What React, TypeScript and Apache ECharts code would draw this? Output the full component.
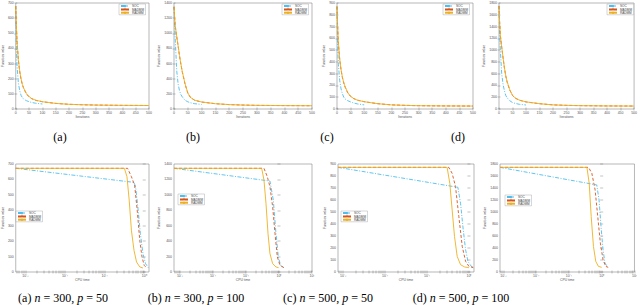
import React, { useEffect, useRef } from "react";
import * as echarts from "echarts";

const NAMES = ["SOC", "MADMM", "RADMM"];
const COLORS = ["#4DBEEE", "#D95319", "#EDB120"];

// ---------- top row: function value vs iterations ----------
const topIters = [0, 2, 5, 10, 15, 20, 25, 30, 40, 50, 60, 75, 100, 150, 200, 250, 300, 400, 500];
const socIters = [0, 2, 5, 10, 15, 20, 25, 30, 40, 50, 60, 75, 100];

const topA_SOC = [680, 420, 280, 170, 120, 90, 75, 65, 55, 48, 43, 38, 33];
const topA_MADMM = [680, 560, 440, 320, 245, 195, 160, 135, 100, 80, 68, 57, 48, 37, 31, 28, 26, 24, 23];
const topA_RADMM = [680, 565, 445, 325, 250, 200, 162, 137, 102, 82, 69, 58, 48, 37, 31, 28, 26, 24, 23];

const topB_SOC = [1350, 1100, 880, 500, 330, 240, 190, 160, 115, 95, 82, 70, 60];
const topB_MADMM = [1350, 1220, 1080, 950, 830, 700, 590, 490, 330, 210, 150, 115, 92, 70, 58, 52, 48, 45, 43];
const topB_RADMM = [1350, 1225, 1085, 955, 835, 705, 595, 495, 335, 212, 152, 116, 93, 70, 58, 52, 48, 45, 43];

const topC_SOC = [870, 560, 380, 240, 170, 128, 100, 85, 70, 60, 52, 43, 35];
const topC_MADMM = [870, 720, 560, 420, 330, 265, 220, 185, 135, 107, 90, 75, 62, 45, 35, 31, 28, 26, 25];
const topC_RADMM = [870, 725, 565, 425, 333, 268, 222, 187, 137, 108, 91, 75, 62, 45, 35, 31, 28, 26, 25];

const topD_SOC = [1750, 1300, 1000, 600, 420, 310, 230, 190, 140, 110, 95, 80, 68];
const topD_MADMM = [1750, 1500, 1250, 1050, 870, 700, 560, 460, 320, 230, 185, 150, 120, 90, 70, 62, 57, 52, 50];
const topD_RADMM = [1750, 1505, 1255, 1055, 875, 705, 565, 465, 325, 233, 187, 151, 121, 90, 70, 62, 57, 52, 50];

const topYMax = [700, 1400, 900, 1800];
const topYStep = [100, 200, 100, 200];

// ---------- bottom row: function value vs CPU time (s) ----------
const botA_SOC_t = [0.000575, 0.552, 0.605, 0.69, 0.8, 0.929, 1.08, 1.27];
const botA_SOC_v = [672, 581, 553, 423, 249, 119, 54, 28];
const botA_MADMM_t = [0.000575, 0.381, 0.475, 0.573, 0.665, 0.771, 0.879, 1.0, 1.16];
const botA_MADMM_v = [672, 672, 618, 563, 401, 206, 98, 43, 26];
const botA_RADMM_t = [0.000575, 0.316, 0.367, 0.418, 0.475, 0.552, 0.64, 0.771, 0.929];
const botA_RADMM_v = [672, 672, 618, 466, 271, 141, 65, 33, 26];

const botB_SOC_t = [0.000661, 0.533, 0.673, 0.811, 0.955, 1.12, 1.41];
const botB_SOC_v = [1344, 1179, 932, 498, 195, 87, 56];
const botB_MADMM_t = [0.000661, 0.351, 0.443, 0.533, 0.643, 0.757, 0.891, 1.07, 1.41];
const botB_MADMM_v = [1344, 1344, 1235, 1105, 845, 498, 195, 87, 56];
const botB_RADMM_t = [0.000661, 0.299, 0.351, 0.404, 0.465, 0.533, 0.643, 0.811, 0.977];
const botB_RADMM_v = [1344, 1344, 1192, 889, 498, 238, 108, 65, 56];

const botC_SOC_t = [0.000759, 0.545, 0.631, 0.731, 0.832, 0.946, 1.14, 1.27];
const botC_SOC_v = [872, 706, 573, 352, 186, 89, 47, 39];
const botC_MADMM_t = [0.000759, 0.331, 0.398, 0.479, 0.575, 0.692, 0.832, 1.0, 1.27];
const botC_MADMM_v = [872, 872, 822, 712, 462, 213, 89, 47, 36];
const botC_RADMM_t = [0.000759, 0.302, 0.35, 0.398, 0.453, 0.525, 0.631, 0.787, 1.0];
const botC_RADMM_v = [872, 872, 739, 518, 296, 130, 61, 42, 36];

const botD_SOC_t = [0.000794, 0.708, 0.832, 0.955, 1.1, 1.26, 1.51];
const botD_SOC_v = [1744, 1451, 1202, 759, 371, 150, 83];
const botD_MADMM_t = [0.000794, 0.398, 0.501, 0.631, 0.759, 0.912, 1.1, 1.32, 1.58];
const botD_MADMM_v = [1744, 1744, 1645, 1368, 925, 482, 205, 94, 78];
const botD_RADMM_t = [0.000794, 0.355, 0.417, 0.479, 0.562, 0.661, 0.794, 1.0];
const botD_RADMM_v = [1744, 1744, 1478, 925, 426, 177, 94, 78];

const botXMin = [0.000575, 0.000661, 0.000759, 0.000794];
const botXMax = [1.32, 10, 1.32, 10];
const botYMax = [700, 1400, 900, 1800];
const botYStep = [100, 200, 100, 200];

const topCaptions = ["(a)", "(b)", "(c)", "(d)"];
const botCaptionLetters = ["(a)", "(b)", "(c)", "(d)"];
const botCaptionN = ["300", "300", "500", "500"];
const botCaptionP = ["50", "100", "50", "100"];

// ---------- layout ----------
const topGrids = [
  { left: 12, top: 3, width: 137, height: 106 },
  { left: 174, top: 3, width: 138, height: 106 },
  { left: 337, top: 3, width: 136, height: 106 },
  { left: 499, top: 3, width: 137, height: 106 },
];
const botGrids = [
  { left: 10, top: 164, width: 139, height: 108 },
  { left: 174, top: 164, width: 138, height: 108 },
  { left: 338, top: 164, width: 136, height: 108 },
  { left: 500, top: 164, width: 136, height: 108 },
];
const topLegendPos = [
  { left: 119, top: 4 },
  { left: 282, top: 4 },
  { left: 443, top: 4 },
  { left: 607, top: 4 },
];
const botLegendPos = [
  { left: 16, top: 211 },
  { left: 178, top: 194 },
  { left: 341, top: 211 },
  { left: 505, top: 195 },
];
const topCaptionX = [60, 193, 327, 458];
const botCaptionX = [63, 196, 328, 461];

const LINE_TYPES: any[] = [[4, 1.5, 1, 1.5], [3, 2], "solid"];
const SUP: Record<string, string> = {
  "-": "\u207B", "0": "\u2070", "1": "\u00B9", "2": "\u00B2", "3": "\u00B3",
  "4": "\u2074", "5": "\u2075", "6": "\u2076", "7": "\u2077", "8": "\u2078", "9": "\u2079",
};
const sup = (n: number) => String(Math.round(n)).split("").map((c) => SUP[c] || c).join("");

const AX_COLOR = "#666";
const LBL = { fontSize: 3.5, color: "#555", fontFamily: "Liberation Sans" };

function buildOption() {
  const grid: any[] = [];
  const xAxis: any[] = [];
  const yAxis: any[] = [];
  const series: any[] = [];
  const legend: any[] = [];

  const addPanel = (
    g: any,
    isLog: boolean,
    xr: [number, number],
    ymax: number,
    ystep: number,
    xName: string,
    lines: number[][][],
    legPos: any
  ) => {
    const gi = grid.length;
    grid.push({ ...g, show: true, borderColor: "#888", borderWidth: 0.6, backgroundColor: "#fff" });
    const xi = xAxis.length;
    let majors: number[] = [];
    let ticks: number[] = [];
    if (isLog) {
      for (let d = -5; d <= 2; d++) {
        if (d >= xr[0] - 1e-9 && d <= xr[1] + 1e-9) majors.push(d);
        for (let k = 1; k <= 9; k++) {
          const v = d + Math.log10(k);
          if (v >= xr[0] && v <= xr[1]) ticks.push(v);
        }
      }
    }
    const xBase: any = {
      gridIndex: gi,
      type: "value",
      min: xr[0],
      max: xr[1],
      splitLine: { show: false },
      axisLine: { show: false },
    };
    if (!isLog) xBase.interval = 50;
    const tickStyle = { inside: true, length: 1.5, lineStyle: { color: AX_COLOR, width: 0.4 } };
    xAxis.push({
      ...xBase,
      position: "bottom",
      name: xName,
      nameLocation: "middle",
      nameGap: 6,
      nameTextStyle: { ...LBL, fontSize: 3.4 },
      axisTick: isLog ? { ...tickStyle, customValues: ticks } : tickStyle,
      axisLabel: isLog
        ? { ...LBL, margin: 2, customValues: majors, formatter: (v: number) => "10" + sup(v) }
        : { ...LBL, margin: 2, formatter: (v: number) => String(v) },
    });
    xAxis.push({
      ...xBase,
      position: "top",
      axisTick: isLog ? { ...tickStyle, customValues: ticks } : tickStyle,
      axisLabel: { show: false },
    });
    const yi = yAxis.length;
    const yBase: any = {
      gridIndex: gi,
      type: "value",
      min: 0,
      max: ymax,
      interval: ystep,
      splitLine: { show: false },
      axisLine: { show: false },
      axisTick: tickStyle,
    };
    const labW = String(ymax).length * 1.95;
    yAxis.push({
      ...yBase,
      position: "left",
      name: "Function value",
      nameLocation: "middle",
      nameGap: labW + 3.5,
      nameRotate: 90,
      nameTextStyle: { ...LBL, fontSize: 3.4 },
      axisLabel: { ...LBL, margin: 2, formatter: (v: number) => String(v) },
    });
    yAxis.push({ ...yBase, position: "right", axisLabel: { show: false } });

    lines.forEach((pts, s) => {
      series.push({
        type: "line",
        name: NAMES[s],
        xAxisIndex: xi,
        yAxisIndex: yi,
        data: pts,
        symbol: "none",
        showSymbol: false,
        silent: true,
        z: 2 + s,
        lineStyle: { color: COLORS[s], width: 0.9, type: LINE_TYPES[s] },
        itemStyle: { color: COLORS[s] },
      });
    });

    legend.push({
      ...legPos,
      data: NAMES,
      orient: "vertical",
      itemWidth: 8,
      itemHeight: 3,
      itemGap: 0.3,
      padding: [0.6, 1.5, 0.6, 1],
      borderColor: "#999",
      borderWidth: 0.4,
      backgroundColor: "#fff",
      selectedMode: false,
      textStyle: { fontSize: 3.1, color: "#444", fontFamily: "Liberation Sans", padding: [0, 0, 0, -2] },
    });
  };

  const topSets = [
    [topA_SOC, topA_MADMM, topA_RADMM],
    [topB_SOC, topB_MADMM, topB_RADMM],
    [topC_SOC, topC_MADMM, topC_RADMM],
    [topD_SOC, topD_MADMM, topD_RADMM],
  ];
  topSets.forEach((set, i) => {
    const lines = set.map((vals, s) =>
      vals.map((v, j) => [s === 0 ? socIters[j] : topIters[j], v])
    );
    addPanel(topGrids[i], false, [0, 500], topYMax[i], topYStep[i], "Iterations", lines, topLegendPos[i]);
  });

  const botSets = [
    [[botA_SOC_t, botA_SOC_v], [botA_MADMM_t, botA_MADMM_v], [botA_RADMM_t, botA_RADMM_v]],
    [[botB_SOC_t, botB_SOC_v], [botB_MADMM_t, botB_MADMM_v], [botB_RADMM_t, botB_RADMM_v]],
    [[botC_SOC_t, botC_SOC_v], [botC_MADMM_t, botC_MADMM_v], [botC_RADMM_t, botC_RADMM_v]],
    [[botD_SOC_t, botD_SOC_v], [botD_MADMM_t, botD_MADMM_v], [botD_RADMM_t, botD_RADMM_v]],
  ];
  botSets.forEach((set, i) => {
    const lines = set.map(([ts, vs]) => ts.map((t, j) => [Math.log10(t), vs[j]]));
    addPanel(
      botGrids[i],
      true,
      [Math.log10(botXMin[i]), Math.log10(botXMax[i])],
      botYMax[i],
      botYStep[i],
      "CPU time",
      lines,
      botLegendPos[i]
    );
  });

  const capFont = "Liberation Serif";
  const graphic: any[] = [];
  topCaptions.forEach((c, i) => {
    graphic.push({
      type: "text",
      x: topCaptionX[i],
      y: 137,
      style: {
        text: c,
        fontFamily: capFont,
        fontSize: 12,
        fill: "#000",
        align: "center",
        verticalAlign: "middle",
        textAlign: "center",
        textVerticalAlign: "middle",
      },
    });
  });
  botCaptionLetters.forEach((c, i) => {
    graphic.push({
      type: "text",
      x: botCaptionX[i],
      y: 298,
      style: {
        text: `{r|${c} }{i|n}{r| = ${botCaptionN[i]}, }{i|p}{r| = ${botCaptionP[i]}}`,
        rich: {
          r: { fontFamily: capFont, fontSize: 12, fill: "#000", color: "#000" },
          i: { fontFamily: capFont, fontSize: 12, fontStyle: "italic", fill: "#000", color: "#000" },
        },
        fill: "#000",
        align: "center",
        verticalAlign: "middle",
        textAlign: "center",
        textVerticalAlign: "middle",
      },
    });
  });

  return {
    animation: false,
    backgroundColor: "#fff",
    grid,
    xAxis,
    yAxis,
    series,
    legend,
    graphic,
  };
}

export default function App() {
  const ref = useRef<HTMLDivElement>(null);
  useEffect(() => {
    if (!ref.current) return;
    const chart = echarts.init(ref.current, undefined, { renderer: "svg" });
    chart.setOption(buildOption() as any);
    return () => chart.dispose();
  }, []);
  return (
    <div
      ref={ref}
      style={{ position: "fixed", left: 0, top: 0, width: 640, height: 305, background: "#fff" }}
    />
  );
}
